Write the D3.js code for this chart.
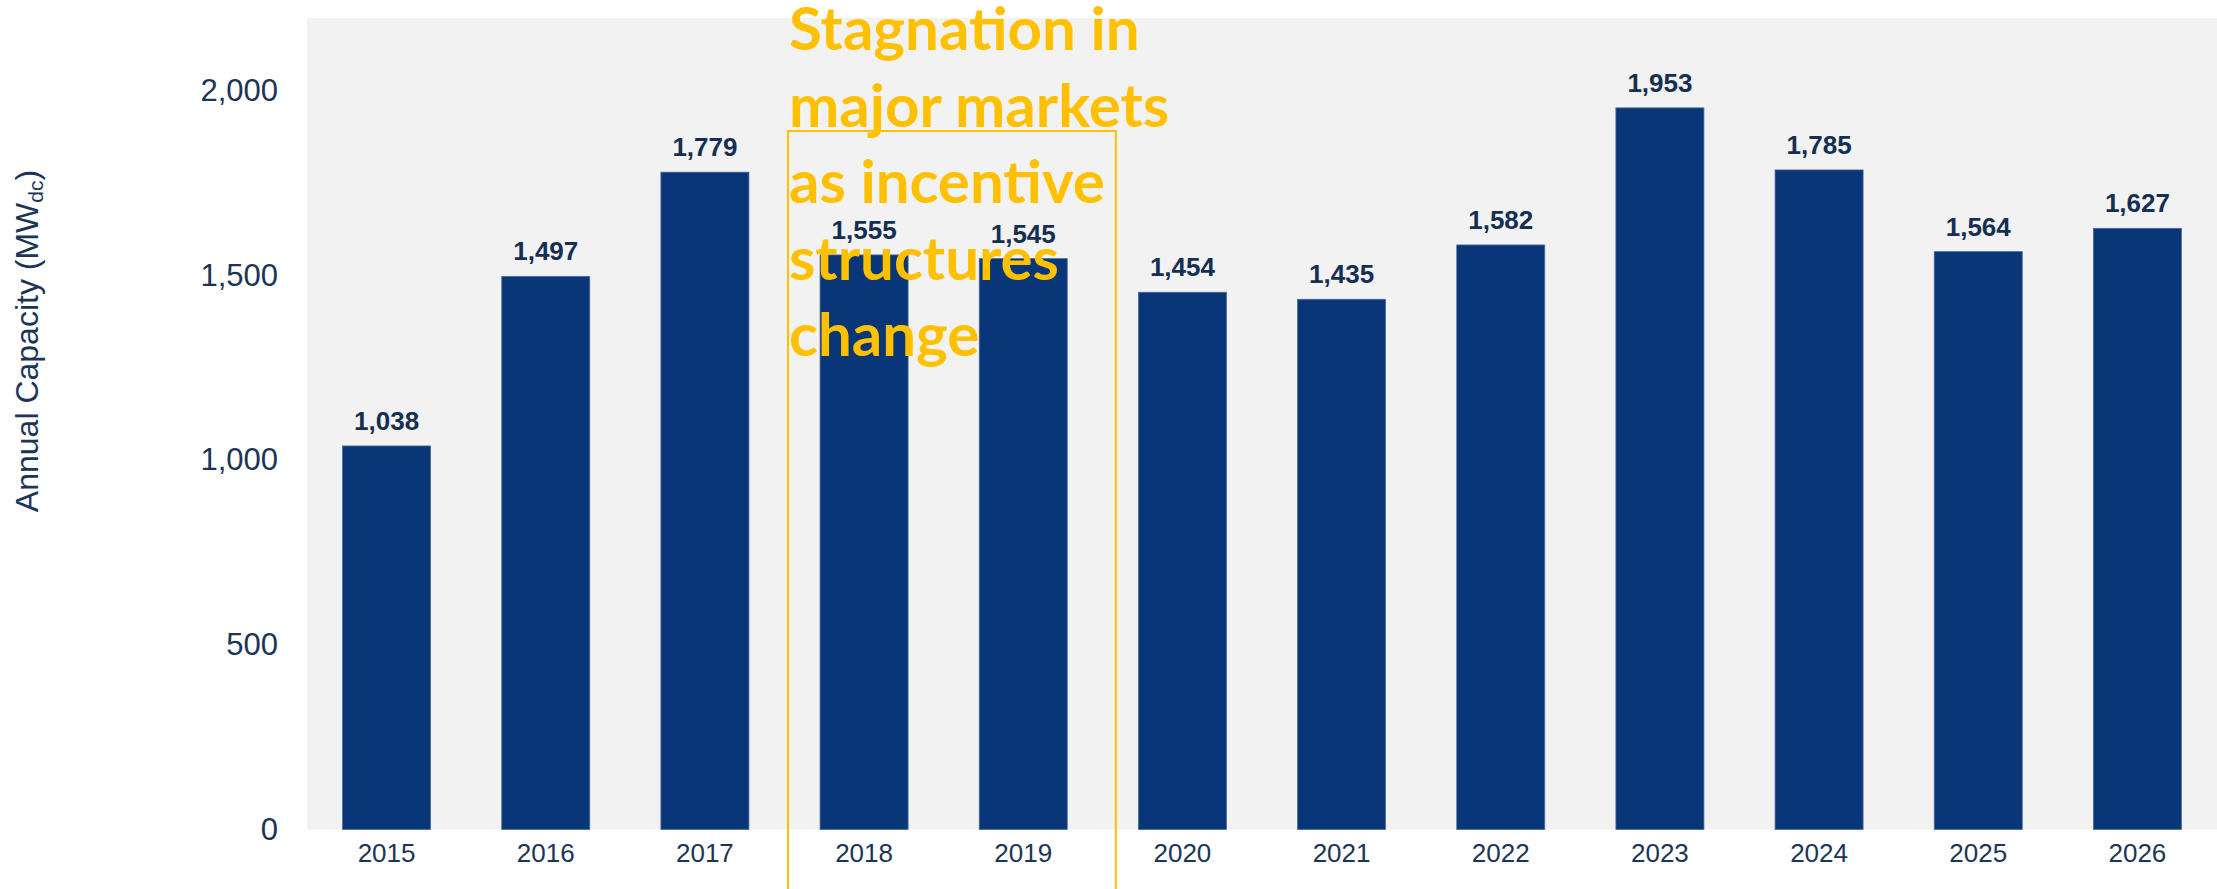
<!DOCTYPE html>
<html>
<head>
<meta charset="utf-8">
<script src="https://cdn.jsdelivr.net/npm/d3@7"></script>
<style>
  html, body { margin: 0; padding: 0; background: #ffffff; }
  svg { display: block; }
</style>
</head>
<body>
<svg id="chart" width="2217" height="889"></svg>
<script>
// Annual installed capacity by year (MWdc)
const years = ["2015", "2016", "2017", "2018", "2019", "2020", "2021", "2022", "2023", "2024", "2025", "2026"];
const capacity = [1038, 1497, 1779, 1555, 1545, 1454, 1435, 1582, 1953, 1785, 1564, 1627];
const yTicks = [0, 500, 1000, 1500, 2000];
const noteLines = ["Stagnation in", "major markets", "as incentive", "structures", "change"];
const noteYears = ["2018", "2019"];

const W = 2217, H = 889;
const plot = { left: 307, right: 2217, top: 18, bottom: 829.5 };

const svg = d3.select("#chart");

const x = d3.scaleBand()
  .domain(years)
  .range([plot.left, plot.right])
  .paddingInner(0.447)
  .paddingOuter(0.2235);

const y = d3.scaleLinear()
  .domain([0, 2000])
  .range([plot.bottom, plot.bottom - 2000 * 0.3695]);

// plot background
svg.append("rect")
  .attr("x", plot.left).attr("y", plot.top)
  .attr("width", plot.right - plot.left)
  .attr("height", plot.bottom - plot.top)
  .attr("fill", "#f2f2f2");

// bars
const data = years.map((yr, i) => ({ year: yr, value: capacity[i] }));
svg.append("g").selectAll("rect")
  .data(data)
  .join("rect")
  .attr("x", d => x(d.year))
  .attr("y", d => y(d.value))
  .attr("width", x.bandwidth())
  .attr("height", d => y(0) - y(d.value))
  .attr("fill", "#083677")
  .attr("stroke", "#4a6b9c")
  .attr("stroke-width", 0.8);

// value labels
const fmt = d3.format(",");
svg.append("g").selectAll("text")
  .data(data)
  .join("text")
  .attr("x", d => x(d.year) + x.bandwidth() / 2)
  .attr("y", d => y(d.value) - 16)
  .attr("text-anchor", "middle")
  .attr("font-family", "'Liberation Sans', Arial, sans-serif")
  .attr("font-weight", "bold")
  .attr("font-size", 26)
  .attr("fill", "#152f52")
  .text(d => fmt(d.value));

// x axis labels
const xAxis = svg.append("g")
  .attr("transform", `translate(0,${plot.bottom})`)
  .call(d3.axisBottom(x).tickSize(0).tickPadding(0));
xAxis.select(".domain").remove();
xAxis.selectAll("text")
  .attr("dy", null)
  .attr("y", 32)
  .attr("font-family", "'Liberation Sans', Arial, sans-serif")
  .attr("font-size", 26)
  .attr("fill", "#1b3556");

// y axis labels
const yAxis = svg.append("g")
  .attr("transform", `translate(278,0)`)
  .call(d3.axisLeft(y).tickValues(yTicks).tickFormat(fmt).tickSize(0).tickPadding(0));
yAxis.select(".domain").remove();
yAxis.selectAll("text")
  .attr("font-family", "'Liberation Sans', Arial, sans-serif")
  .attr("font-size", 31)
  .attr("fill", "#1b3556");

// y axis title
const title = svg.append("text")
  .attr("transform", `translate(38,341) rotate(-90)`)
  .attr("text-anchor", "middle")
  .attr("font-family", "'Liberation Sans', Arial, sans-serif")
  .attr("font-size", 32)
  .attr("fill", "#1b3556");
title.append("tspan").text("Annual Capacity (MW");
title.append("tspan").attr("font-size", 21).attr("baseline-shift", "-25%").text("dc");
title.append("tspan").text(")");

// annotation frame around the highlighted years
const bandGap = x.step() - x.bandwidth();
const boxLeft = x(noteYears[0]) - bandGap / 2 + 3.5;
const boxRight = x(noteYears[1]) + x.bandwidth() + bandGap / 2 + 13;
svg.append("rect")
  .attr("x", boxLeft)
  .attr("y", 131)
  .attr("width", boxRight - boxLeft)
  .attr("height", 800)
  .attr("fill", "none")
  .attr("stroke", "#ffc000")
  .attr("stroke-width", 2);

// annotation text
svg.append("text")
  .attr("font-family", "Lato, 'Open Sans', sans-serif")
  .attr("font-weight", "bold")
  .attr("font-size", 60)
  .attr("fill", "#ffc000")
  .selectAll("tspan")
  .data(noteLines)
  .join("tspan")
  .attr("x", boxLeft + 1)
  .attr("y", (d, i) => 50 + i * 76.5)
  .text(d => d);
</script>
</body>
</html>
